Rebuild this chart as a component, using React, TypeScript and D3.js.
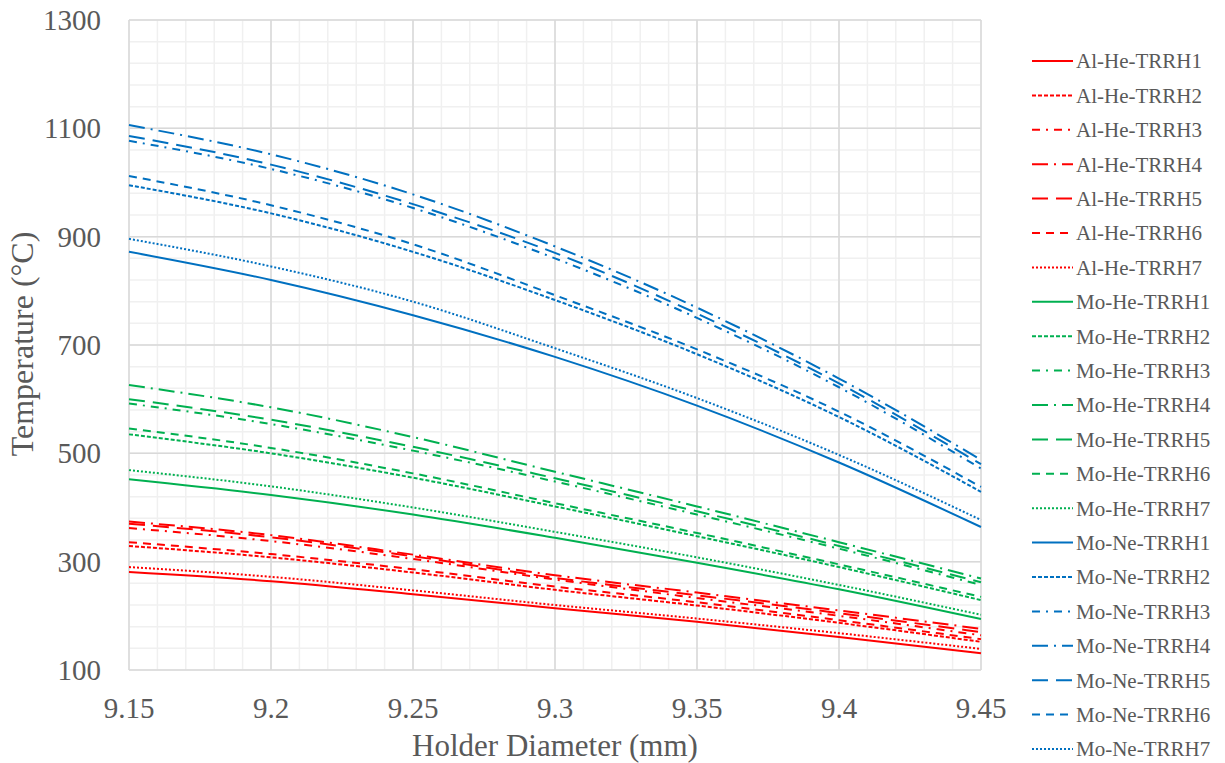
import { useMemo } from "react";
import * as d3 from "d3";

// x values (holder diameter, mm)
const diameters = [9.15, 9.2, 9.25, 9.3, 9.35, 9.4, 9.45];

const yTicks = [100, 300, 500, 700, 900, 1100, 1300];
const xTicks = [9.15, 9.2, 9.25, 9.3, 9.35, 9.4, 9.45];

// Al-He series (red)
const alHe1 = [281, 264, 240, 214, 189, 161, 131];
const alHe2 = [329, 308, 280, 248, 219, 187, 152];
const alHe3 = [362, 338, 305, 267, 233, 200, 164];
const alHe4 = [374, 349, 313, 275, 243, 210, 176];
const alHe5 = [370, 345, 310, 270, 238, 205, 170];
const alHe6 = [336, 314, 286, 254, 225, 192, 157];
const alHe7 = [290, 272, 247, 220, 195, 168, 139];

// Mo-He series (green)
const moHe1 = [452, 423, 387, 344, 298, 249, 194];
const moHe2 = [535, 500, 455, 402, 347, 290, 229];
const moHe3 = [592, 554, 505, 448, 387, 324, 257];
const moHe4 = [626, 585, 530, 466, 402, 336, 269];
const moHe5 = [600, 562, 512, 454, 393, 329, 262];
const moHe6 = [546, 510, 463, 408, 353, 295, 235];
const moHe7 = [469, 439, 400, 355, 308, 257, 202];

// Mo-Ne series (blue)
const moNe1 = [872, 820, 755, 678, 588, 483, 364];
const moNe2 = [995, 943, 872, 783, 683, 567, 429];
const moNe3 = [1077, 1025, 953, 860, 750, 622, 472];
const moNe4 = [1106, 1052, 978, 882, 769, 638, 488];
const moNe5 = [1086, 1033, 960, 870, 758, 629, 480];
const moNe6 = [1012, 958, 886, 792, 692, 577, 438];
const moNe7 = [896, 845, 780, 694, 602, 497, 377];

const RED = "#FF0000";
const GREEN = "#00B050";
const BLUE = "#0070C0";

// dash styles by TRRH index 1..7
const dashes = ["", "4,2", "8,6,2,6", "16,6,2,6", "16,8", "8,6", "2,2"];

const groups = [
  { prefix: "Al-He", color: RED, values: [alHe1, alHe2, alHe3, alHe4, alHe5, alHe6, alHe7] },
  { prefix: "Mo-He", color: GREEN, values: [moHe1, moHe2, moHe3, moHe4, moHe5, moHe6, moHe7] },
  { prefix: "Mo-Ne", color: BLUE, values: [moNe1, moNe2, moNe3, moNe4, moNe5, moNe6, moNe7] },
];

const series = groups.flatMap((g) =>
  g.values.map((vals, i) => ({
    name: `${g.prefix}-TRRH${i + 1}`,
    color: g.color,
    dash: dashes[i],
    values: vals,
  }))
);

const W = 1225;
const H = 763;
const M = { left: 129, right: 244, top: 20, bottom: 93 };
const FONT = "'Liberation Serif', 'Times New Roman', serif";
const TEXT = "#595959";

export default function App() {
  const x = useMemo(() => d3.scaleLinear().domain([9.15, 9.45]).range([M.left, W - M.right]), []);
  const y = useMemo(() => d3.scaleLinear().domain([100, 1300]).range([H - M.bottom, M.top]), []);

  const line = d3
    .line<number>()
    .x((_, i) => x(diameters[i]))
    .y((d) => y(d))
    .curve(d3.curveMonotoneX);

  const minorX = d3.range(0, 31).map((i) => 9.15 + i * 0.01);
  const minorY = d3.range(0, 31).map((i) => 100 + i * 40);

  const legendTop = 61;
  const legendStep = 34.4;

  return (
    <svg width={W} height={H} style={{ position: "absolute", left: 0, top: 0, background: "#fff" }}>
      {/* minor grid */}
      <g stroke="#f0f0f0" strokeWidth={1.5}>
        {minorX.map((v, i) => (
          <line key={"mx" + i} x1={x(v)} x2={x(v)} y1={y(100)} y2={y(1300)} />
        ))}
        {minorY.map((v, i) => (
          <line key={"my" + i} x1={x(9.15)} x2={x(9.45)} y1={y(v)} y2={y(v)} />
        ))}
      </g>
      {/* major grid */}
      <g stroke="#d9d9d9" strokeWidth={1.5}>
        {xTicks.map((v) => (
          <line key={"gx" + v} x1={x(v)} x2={x(v)} y1={y(100)} y2={y(1300)} />
        ))}
        {yTicks.map((v) => (
          <line key={"gy" + v} x1={x(9.15)} x2={x(9.45)} y1={y(v)} y2={y(v)} />
        ))}
      </g>

      {/* series */}
      <g fill="none">
        {series.map((s) => (
          <path
            key={s.name}
            d={line(s.values) || ""}
            stroke={s.color}
            strokeWidth={2}
            strokeDasharray={s.dash || undefined}
          />
        ))}
      </g>

      {/* y tick labels */}
      <g fontFamily={FONT} fontSize={29} fill={TEXT} textAnchor="end">
        {yTicks.map((v) => (
          <text key={"yt" + v} x={101} y={y(v)} dy="0.35em">
            {v}
          </text>
        ))}
      </g>
      {/* x tick labels */}
      <g fontFamily={FONT} fontSize={29} fill={TEXT} textAnchor="middle">
        {xTicks.map((v) => (
          <text key={"xt" + v} x={x(v)} y={708} dy="0.35em">
            {d3.format("~g")(v)}
          </text>
        ))}
      </g>

      {/* axis titles */}
      <text x={x(9.3)} y={745} dy="0.35em" textAnchor="middle" fontFamily={FONT} fontSize={31} fill={TEXT}>
        Holder Diameter (mm)
      </text>
      <text
        transform={`translate(22, ${y(700) - 1}) rotate(-90)`}
        dy="0.35em"
        textAnchor="middle"
        fontFamily={FONT}
        fontSize={32}
        fill={TEXT}
      >
        Temperature (°C)
      </text>

      {/* legend */}
      <g fontFamily={FONT} fontSize={21} fill={TEXT}>
        {series.map((s, i) => {
          const ly = legendTop + i * legendStep;
          return (
            <g key={"lg" + s.name}>
              <line
                x1={1032}
                x2={1073}
                y1={ly}
                y2={ly}
                stroke={s.color}
                strokeWidth={2}
                strokeDasharray={s.dash || undefined}
              />
              <text x={1076} y={ly} dy="0.35em">
                {s.name}
              </text>
            </g>
          );
        })}
      </g>
    </svg>
  );
}
